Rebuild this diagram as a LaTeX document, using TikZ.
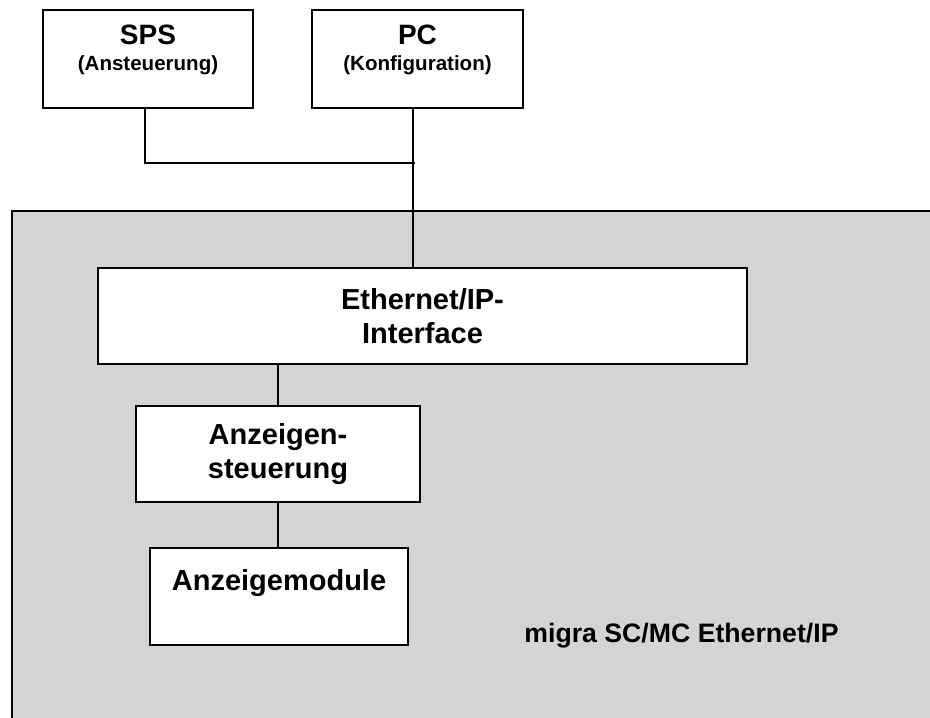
\documentclass[tikz,border=0pt]{standalone}
\usepackage{fontspec}
\setmainfont{Liberation Sans}
\usetikzlibrary{positioning}
\definecolor{panelgray}{RGB}{212,212,212}
\newcommand{\subtitlesize}{\fontsize{15.4pt}{19.5pt}\selectfont}

\begin{document}
\begin{tikzpicture}[x=0.75pt, y=-0.75pt,
 unitbox/.style={draw, line width=1.3pt, fill=white, inner sep=0pt},
 wire/.style={line width=1pt},
 bigtext/.style={font=\bfseries\fontsize{21.75pt}{26pt}\selectfont, align=center},
 toptext/.style={font=\bfseries\fontsize{21pt}{19.5pt}\selectfont, align=center, inner sep=0pt}]
 \useasboundingbox (0,0) rectangle (930,717);
 % Geraet
 \fill[panelgray] (12,211) rectangle (940,725);
 \draw[line width=1.5pt] (12,725) -- (12,211) -- (940,211);
 % Steuerung von aussen
 \node[unitbox, minimum width=157.5pt, minimum height=73.5pt] (sps) at (148,59) {};
 \node[toptext, below=12pt of sps.north] (spslabel) {SPS\\{\subtitlesize (Ansteuerung)}};
 \node[unitbox, minimum width=158.25pt, minimum height=73.5pt] (pc) at (417.5,59) {};
 \node[toptext, below=12pt of pc.north] (pclabel) {PC\\{\subtitlesize (Konfiguration)}};
 % Baugruppen im Geraet
 \node[unitbox, bigtext, minimum width=486.75pt, minimum height=72pt] (eth) at (422.5,316) {Ethernet/IP-\\Interface};
 \node[unitbox, bigtext, minimum width=213pt, minimum height=72pt] (steuer) at (278,454) {Anzeigen-\\steuerung};
 \node[unitbox, bigtext, minimum width=193.5pt, minimum height=72.75pt, text depth=25.5pt] (modul) at (279,596.5) {Anzeigemodule};
 \node[font=\bfseries\fontsize{20pt}{24pt}\selectfont, anchor=base] (typ) at (681.5,642) {migra SC/MC Ethernet/IP};
 % Verbindungen
 \coordinate (tap) at (145,163);
 \coordinate (bus) at (413,163);
 \draw[wire] (sps.south -| tap) -- (tap) -- ([xshift=1.5pt]bus);
 \draw[wire] (pc.south -| bus) -- (eth.north -| bus);
 \draw[wire] (eth.south -| steuer.north) -- (steuer.north);
 \draw[wire] (steuer.south) -- (steuer.south |- modul.north);
\end{tikzpicture}
\end{document}
